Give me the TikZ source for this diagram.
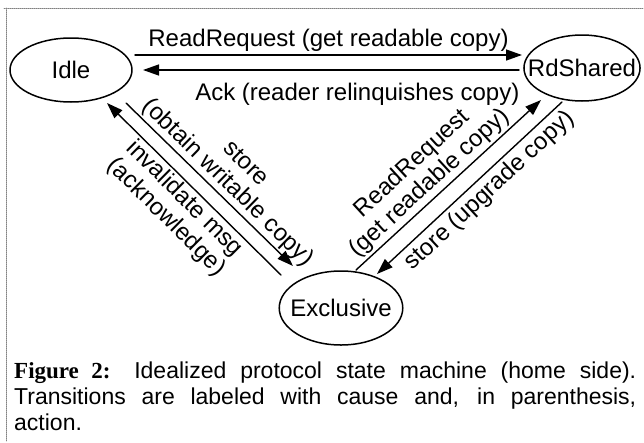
\documentclass[tikz,border=0pt]{standalone}
\usepackage{fontspec}
\setmainfont{Liberation Sans}
\newfontfamily\figfont{Liberation Serif}
\usetikzlibrary{arrows.meta,shapes.geometric}

\begin{document}
\begin{tikzpicture}[
  x=1pt,
  y=-1pt,
  >={Triangle[length=16pt,width=11pt]},
  line cap=round,
  line join=round,
  font=\fontsize{24}{26}\selectfont,
  state/.style={ellipse, draw, line width=1.5pt, inner sep=0pt},
  trans/.style={->, line width=1.4pt},
  lbl/.style={sloped, align=center, inner sep=2pt},
  frame/.style={gray, line width=0.8pt, dash pattern=on 1pt off 1pt}
]
  \useasboundingbox (0,0) rectangle (644,442);
  \draw[frame] (4,8) -- (644,8);
  \draw[frame] (6,8) -- (6,442);

  \node[state, minimum width=122pt, minimum height=64pt] (idle) at (71,70) {Idle};
  \node[state, inner xsep=-13pt, minimum height=66pt] (rdshared) at (582,68) {RdShared};
  \node[state, inner xsep=-7pt, minimum height=74pt] (exclusive) at (341,308) {Exclusive};

  \draw[trans] ([shift={(64,-15)}]idle.center) --
    node[above, inner sep=3pt] {ReadRequest (get readable copy)}
    ([shift={(-60,-13)}]rdshared.center);
  \draw[trans] ([shift={(-63,2)}]rdshared.center) --
    node[below, inner sep=12pt, pos=0.43] {Ack (reader relinquishes copy)}
    ([shift={(72,0)}]idle.center);

  \draw[trans] ([shift={(55,33)}]idle.center) --
    node[lbl, above, pos=0.55] {store\\(obtain writable copy)}
    ([shift={(-48,-42)}]exclusive.center);
  \draw[trans] ([shift={(-60,-33)}]exclusive.center) --
    node[lbl, below, pos=0.5] {invalidate msg\\(acknowledge)}
    ([shift={(36,33)}]idle.center);

  \draw[trans] ([shift={(15,-38)}]exclusive.center) --
    node[lbl, above, pos=0.45] {ReadRequest\\(get readable copy)}
    ([shift={(-41,32)}]rdshared.center);
  \draw[trans] ([shift={(-20,34)}]rdshared.center) --
    node[lbl, below, pos=0.45, inner sep=4pt] {store (upgrade copy)}
    ([shift={(36,-34)}]exclusive.center);

  \node[anchor=north west, text width=622pt, align=justify, inner sep=0pt,
    font=\fontsize{23}{26}\selectfont] (caption) at (14,362)
    {{\figfont\bfseries Figure 2:} Idealized protocol state machine (home side).\linebreak
     Transitions are labeled with cause and, in parenthesis,\linebreak action.};
\end{tikzpicture}
\end{document}
